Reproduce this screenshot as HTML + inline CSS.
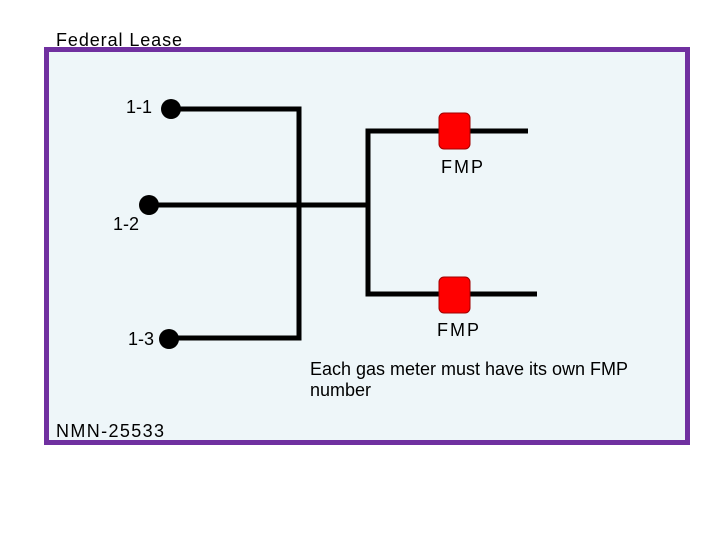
<!DOCTYPE html>
<html><head><style>
body{margin:0;background:#fff;}
svg text{font-family:"Liberation Sans",sans-serif;font-size:18px;fill:#000;}
</style></head><body>
<svg width="720" height="540" xmlns="http://www.w3.org/2000/svg">
<rect x="0" y="0" width="720" height="540" fill="#fff"/>
<rect x="46.5" y="49.5" width="641" height="393" fill="#eef6f9" stroke="#7030a0" stroke-width="5"/>
<text x="56" y="46" textLength="126" lengthAdjust="spacing">Federal Lease</text>
<g stroke="#000" stroke-width="5" fill="none">
<polyline points="171,109 299,109 299,338 169,338"/>
<line x1="149" y1="205" x2="368" y2="205"/>
<polyline points="528,131 368,131 368,294 537,294"/>
</g>
<ellipse cx="171" cy="109" rx="10" ry="10" fill="#000"/>
<ellipse cx="149" cy="205" rx="10" ry="10" fill="#000"/>
<ellipse cx="169" cy="339" rx="10" ry="10" fill="#000"/>
<rect x="439" y="113" width="31" height="36" rx="5" fill="#ff0000" stroke="#a00000"/>
<rect x="439" y="277" width="31" height="36" rx="5" fill="#ff0000" stroke="#a00000"/>
<text x="126" y="113" textLength="26" lengthAdjust="spacing">1-1</text>
<text x="113" y="230" textLength="26" lengthAdjust="spacing">1-2</text>
<text x="128" y="345" textLength="26" lengthAdjust="spacing">1-3</text>
<text x="441" y="173" textLength="42" lengthAdjust="spacing">FMP</text>
<text x="437" y="336" textLength="42" lengthAdjust="spacing">FMP</text>
<text x="310" y="375" textLength="318" lengthAdjust="spacing">Each gas meter must have its own FMP</text>
<text x="310" y="396" textLength="61" lengthAdjust="spacing">number</text>
<text x="56" y="437" textLength="108" lengthAdjust="spacing">NMN-25533</text>
</svg>
</body></html>
